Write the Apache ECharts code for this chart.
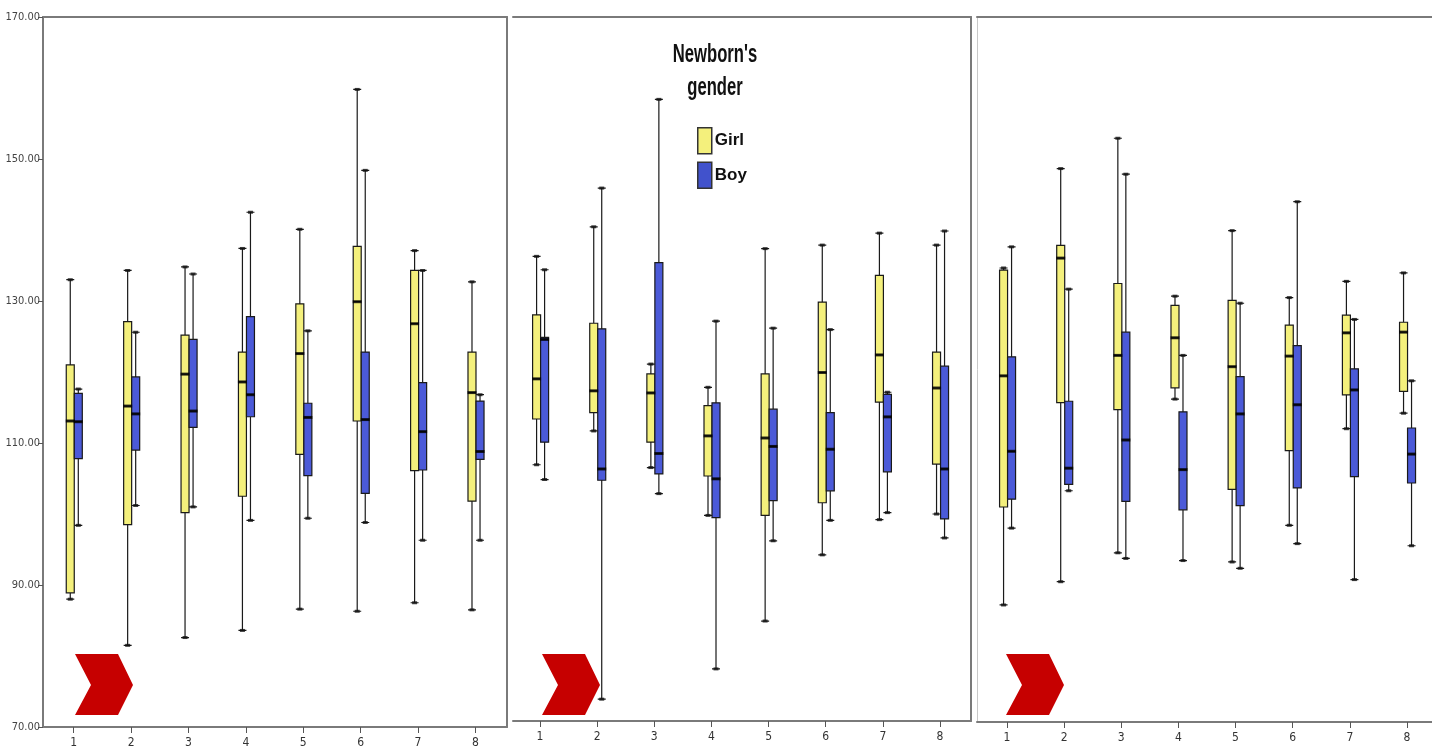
<!DOCTYPE html>
<html><head><meta charset="utf-8">
<script src="https://cdn.jsdelivr.net/npm/echarts@6/dist/echarts.min.js"></script>
<style>html,body{margin:0;padding:0;background:#fff}#c{width:1432px;height:753px}</style>
</head><body><div id="c"></div>
<script>
// ---- data ----
const categories = [1, 2, 3, 4, 5, 6, 7, 8];
const yTicks = [70, 90, 110, 130, 150, 170];
const genders = ['Girl', 'Boy'];
const legendTitle = "Newborn's\ngender";
// each item: [min, Q1, median, Q3, max]
const panel1Girl = [[88.0, 88.9, 113.1, 121.0, 133.0], [81.5, 98.5, 115.2, 127.1, 134.3], [82.6, 100.2, 119.7, 125.2, 134.8], [83.6, 102.5, 118.6, 122.8, 137.4], [86.6, 108.4, 122.6, 129.6, 140.1], [86.3, 113.1, 129.9, 137.7, 159.8], [87.5, 106.1, 126.8, 134.3, 137.1], [86.5, 101.8, 117.1, 122.8, 132.7]];
const panel1Boy = [[98.4, 107.8, 113.0, 117.0, 117.6], [101.2, 109.0, 114.1, 119.3, 125.6], [101.0, 112.2, 114.5, 124.6, 133.8], [99.1, 113.7, 116.8, 127.8, 142.5], [99.4, 105.4, 113.6, 115.6, 125.8], [98.8, 102.9, 113.3, 122.8, 148.4], [96.3, 106.2, 111.6, 118.5, 134.3], [96.3, 107.7, 108.8, 115.9, 116.8]];
const panel2Girl = [[106.4, 112.9, 118.6, 127.7, 136.0], [111.2, 113.8, 116.9, 126.5, 140.2], [106.0, 109.6, 116.6, 119.3, 120.7], [99.2, 104.8, 110.5, 114.8, 117.4], [84.2, 99.2, 110.2, 119.3, 137.1], [93.6, 101.0, 119.5, 129.5, 137.6], [98.6, 115.3, 122.0, 133.3, 139.3], [99.4, 106.5, 117.3, 122.4, 137.6]];
const panel2Boy = [[104.3, 109.6, 124.2, 124.5, 134.1], [73.1, 104.2, 105.8, 125.7, 145.7], [102.3, 105.1, 108.0, 135.1, 158.3], [77.4, 98.9, 104.4, 115.2, 126.8], [95.6, 101.3, 109.0, 114.3, 125.8], [98.5, 102.7, 108.6, 113.8, 125.6], [99.6, 105.4, 113.2, 116.4, 116.7], [96.0, 98.7, 105.8, 120.4, 139.6]];
const panel3Girl = [[86.6, 100.5, 119.1, 134.1, 134.4], [89.9, 115.3, 135.8, 137.6, 148.5], [94.0, 114.3, 122.0, 132.2, 152.8], [115.8, 117.4, 124.5, 129.1, 130.4], [92.7, 103.0, 120.4, 129.8, 139.7], [97.9, 108.5, 121.9, 126.3, 130.2], [111.6, 116.4, 125.2, 127.7, 132.5], [113.8, 116.9, 125.3, 126.7, 133.7]];
const panel3Boy = [[97.5, 101.6, 108.4, 121.8, 137.4], [102.8, 103.7, 106.0, 115.5, 131.4], [93.2, 101.3, 110.0, 125.3, 147.7], [92.9, 100.1, 105.8, 114.0, 122.0], [91.8, 100.7, 113.7, 119.0, 129.4], [95.3, 103.2, 115.0, 123.4, 143.8], [90.2, 104.8, 117.1, 120.1, 127.1], [95.0, 103.9, 108.0, 111.7, 118.4]];

// ---- layout / style ----
const FONT = "'Liberation Sans Narrow', 'DejaVu Sans Condensed', 'Liberation Sans', sans-serif";
const GIRL_COLOR = '#f4f07c';
const BOY_COLOR = '#4b5ad8';
const FRAME = '#7a7a7a';
const panels = [
  { girl: panel1Girl, boy: panel1Boy, grid: { left: 43, top: 17, width: 464, height: 710 }, xr: [0.465, 8.55], yLabels: true, leftLine: { show: true, color: FRAME, width: 2 }, rightLine: true },
  { girl: panel2Girl, boy: panel2Boy, grid: { left: 513, top: 17, width: 458, height: 704 }, xr: [0.527, 8.543], yLabels: false, leftLine: { show: false }, rightLine: true },
  { girl: panel3Girl, boy: panel3Boy, grid: { left: 977, top: 17, width: 455, height: 705 }, xr: [0.475, 8.438], yLabels: false, leftLine: { show: true, color: '#c8c8c8', width: 1 }, rightLine: false }
];
const OFFSET = { Girl: -0.06, Boy: 0.08 };

const grid = [], xAxis = [], yAxis = [], series = [];
panels.forEach((p, i) => {
  grid.push(p.grid);
  // bottom axis (girl base axis, shows category labels)
  xAxis.push({
    type: 'value', gridIndex: i, min: p.xr[0], max: p.xr[1], position: 'bottom',
    axisLine: { show: true, lineStyle: { color: FRAME, width: 2 } },
    axisTick: { show: true, length: 6, customValues: categories, lineStyle: { color: '#555', width: 1 } },
    axisLabel: { show: true, customValues: categories, margin: 10, fontSize: 12, color: '#333', fontFamily: FONT },
    splitLine: { show: false }
  });
  // top axis (boy base axis, draws top frame)
  xAxis.push({
    type: 'value', gridIndex: i, min: p.xr[0], max: p.xr[1], position: 'top',
    axisLine: { show: true, lineStyle: { color: FRAME, width: 2 } },
    axisTick: { show: false }, axisLabel: { show: false }, splitLine: { show: false }
  });
  yAxis.push({
    type: 'value', gridIndex: i, min: 70, max: 170, position: 'left',
    axisLine: { show: p.leftLine.show, lineStyle: { color: p.leftLine.color, width: p.leftLine.width } },
    axisTick: { show: p.yLabels, length: 5, customValues: yTicks, lineStyle: { color: '#555' } },
    axisLabel: { show: p.yLabels, customValues: yTicks, margin: 3, fontSize: 11, color: '#444', fontFamily: FONT, formatter: v => v.toFixed(2) },
    splitLine: { show: false }
  });
  yAxis.push({
    type: 'value', gridIndex: i, min: 70, max: 170, position: 'right',
    axisLine: { show: p.rightLine, lineStyle: { color: FRAME, width: 2 } },
    axisTick: { show: false }, axisLabel: { show: false }, splitLine: { show: false }
  });
  const sets = [['Girl', p.girl, GIRL_COLOR, 2 * i], ['Boy', p.boy, BOY_COLOR, 2 * i + 1]];
  sets.forEach(([name, arr, color, xi]) => {
    const xs = categories.map(c => c + OFFSET[name]);
    series.push({
      type: 'boxplot', name, xAxisIndex: xi, yAxisIndex: 2 * i,
      boxWidth: [8, 8], silent: true, z: 2,
      itemStyle: { color, borderColor: '#1a1a1a', borderWidth: 1.2 },
      data: arr.map((v, k) => [xs[k]].concat(v))
    });
    series.push({
      type: 'scatter', name: name + ' median', xAxisIndex: xi, yAxisIndex: 2 * i,
      symbol: 'rect', symbolSize: [9, 3], silent: true, z: 4,
      itemStyle: { color: '#000' },
      data: arr.map((v, k) => [xs[k], v[2]])
    });
    series.push({
      type: 'scatter', name: name + ' caps', xAxisIndex: xi, yAxisIndex: 2 * i,
      symbol: 'rect', symbolSize: [5, 3], silent: true, z: 4,
      itemStyle: { color: '#111' },
      data: arr.flatMap((v, k) => [[xs[k], v[0]], [xs[k], v[4]]])
    });
  });
});

// red chevron decorations (one per panel, bottom-left) and the legend heading
const chevronLeft = [75, 542, 1006];
const graphic = chevronLeft.map(x0 => ({
  type: 'polygon', silent: true, z: 1,
  shape: { points: [[x0, 654], [x0 + 43, 654], [x0 + 58, 685], [x0 + 43, 715], [x0, 715], [x0 + 16, 685]] },
  style: { fill: '#c60000' }
}));
graphic.push({
  type: 'text', x: 715, y: 71, scaleX: 0.64, silent: true, z: 10,
  style: {
    text: legendTitle, fill: '#111', align: 'center', verticalAlign: 'middle',
    fontSize: 26, fontWeight: 'bold', fontFamily: "'Liberation Sans', Arial, sans-serif", lineHeight: 33
  }
});

const chart = echarts.init(document.getElementById('c'), null, { renderer: 'canvas' });
chart.setOption({
  animation: false,
  backgroundColor: '#fff',
  legend: {
    orient: 'vertical', left: 692, top: 122, itemWidth: 14, itemHeight: 26, itemGap: 7,
    selectedMode: false,
    data: [
      { name: 'Girl', icon: 'rect', itemStyle: { color: GIRL_COLOR, borderColor: '#333', borderWidth: 1.5 } },
      { name: 'Boy', icon: 'rect', itemStyle: { color: '#4152cc', borderColor: '#333', borderWidth: 1.5 } }
    ],
    textStyle: { fontSize: 17, fontWeight: 'bold', color: '#111', fontFamily: "'Liberation Sans', Arial, sans-serif", padding: [0, 0, 0, -2] }
  },
  grid, xAxis, yAxis, series, graphic
});
</script></body></html>
